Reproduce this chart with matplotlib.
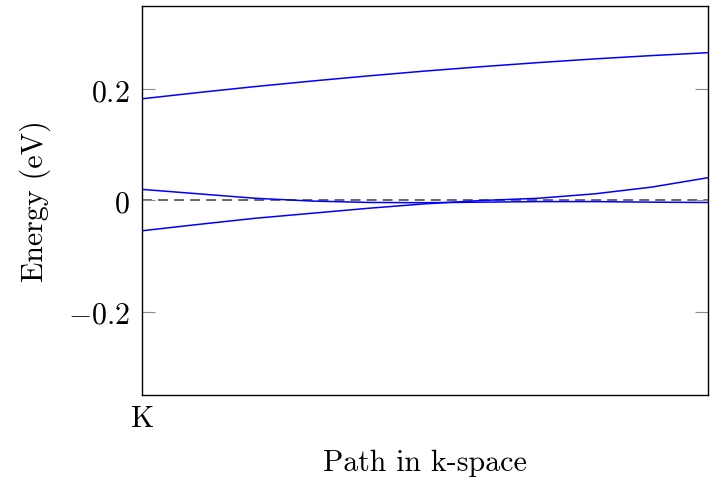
import numpy as np
import matplotlib
matplotlib.use("Agg")
import matplotlib.pyplot as plt

# band energies (eV) sampled along the k-path, 0 = K
k_path = [0.0, 0.1, 0.2, 0.3, 0.4, 0.5, 0.6, 0.7, 0.8, 0.9, 1.0]
band_upper = [0.183, 0.1943, 0.2050, 0.2149, 0.2242, 0.2329, 0.2408, 0.2481, 0.2548, 0.2607, 0.266]
band_mid = [0.020, 0.012, 0.004, -0.001, -0.0035, -0.004, -0.003, -0.002, -0.002, -0.003, -0.0036]
band_low = [-0.0545, -0.043, -0.032, -0.023, -0.014, -0.006, 0.000, 0.004, 0.012, 0.024, 0.041]
bands = [band_upper, band_mid, band_low]

y_ticks = [-0.2, 0.0, 0.2]
y_tick_labels = [r"$-0.2$", r"$0$", r"$0.2$"]
x_ticks = [0.0]
x_tick_labels = ["K"]

plt.rcParams["font.family"] = ["cmr10", "DejaVu Serif"]
plt.rcParams["mathtext.fontset"] = "cm"
plt.rcParams["font.size"] = 21.5

fig = plt.figure(figsize=(7.18, 4.85), dpi=100)
ax = fig.add_axes([0.1978, 0.1835, 0.7882, 0.8021])

for band in bands:
    ax.plot(k_path, band, color="blue", linewidth=1.1)

# Fermi level
ax.axhline(0.0, color="0.25", linewidth=1.1, dashes=(6.5, 4.0), zorder=1)

ax.set_xlim(0, 1)
ax.set_ylim(-0.35, 0.35)

ax.set_yticks(y_ticks)
ax.set_yticklabels(y_tick_labels)
ax.set_xticks(x_ticks)
ax.set_xticklabels(x_tick_labels)

ax.tick_params(axis="y", direction="in", length=9.5, width=0.8, color="0.55",
               left=True, right=True, pad=9)
ax.tick_params(axis="x", direction="in", length=0, pad=7)

for sp in ax.spines.values():
    sp.set_linewidth(1.0)
    sp.set_color("black")

ax.set_xlabel("Path in k-space", labelpad=12)
ax.set_ylabel("Energy (eV)", labelpad=12)

fig.savefig("out.png", dpi=100)
